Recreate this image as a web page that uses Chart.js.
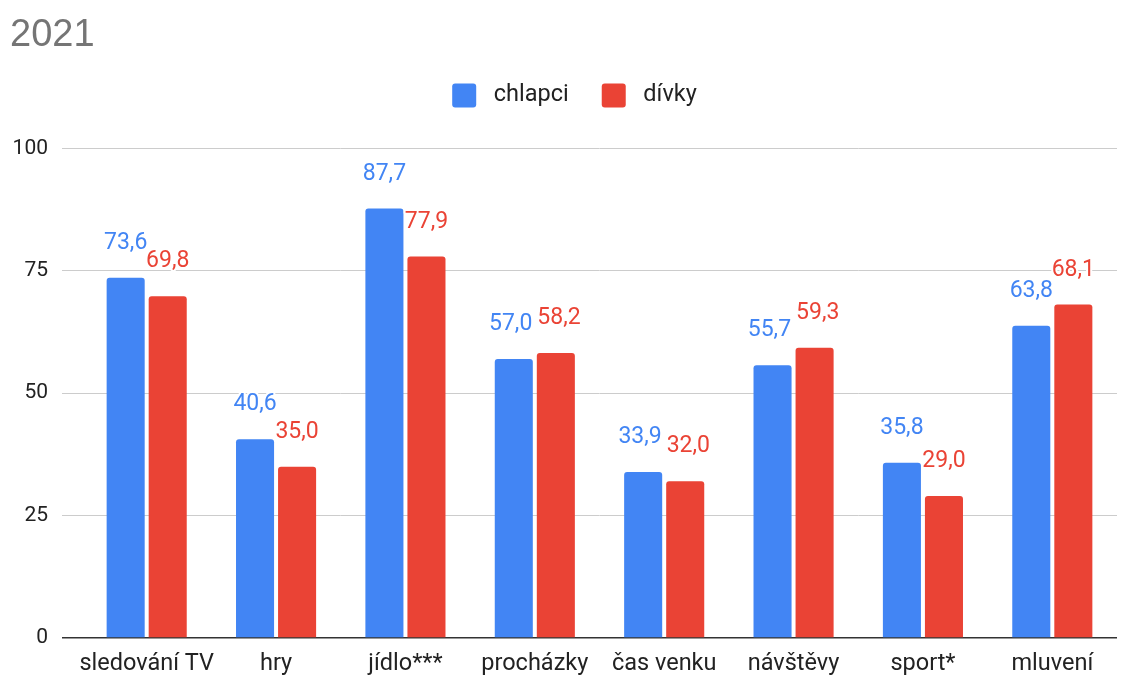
<!DOCTYPE html>
<html>
<head>
<meta charset="utf-8">
<script src="https://cdn.jsdelivr.net/npm/chart.js@4/dist/chart.umd.min.js"></script>
<style>
    html, body { margin: 0; padding: 0; background: #fff; }
    #wrap { width: 1131px; height: 677px; position: relative; }
</style>
</head>
<body>
<div id="wrap"><canvas id="chart"></canvas></div>
<script>
const categories = ['sledování TV', 'hry', 'jídlo***', 'procházky', 'čas venku', 'návštěvy', 'sport*', 'mluvení'];
const chlapci = [73.6, 40.6, 87.7, 57.0, 33.9, 55.7, 35.8, 63.8];
const divky = [69.8, 35.0, 77.9, 58.2, 32.0, 59.3, 29.0, 68.1];
const yTicks = [0, 25, 50, 75, 100];

const BLUE = '#4285F4';
const RED = '#EA4335';
const FONT = "Roboto, 'Noto Sans', sans-serif";

// value labels above each bar, comma decimal like the original;
// neighbouring labels at similar height get pushed apart so they don't touch
const valueLabels = {
    id: 'valueLabels',
    afterDatasetsDraw(chart) {
        const ctx = chart.ctx;
        ctx.save();
        ctx.font = '23px ' + FONT;
        ctx.textAlign = 'center';
        ctx.textBaseline = 'alphabetic';
        const metaA = chart.getDatasetMeta(0);
        const metaB = chart.getDatasetMeta(1);
        const fmt = v => v.toFixed(1).replace('.', ',');
        categories.forEach((c, j) => {
            const items = [
                { bar: metaA.data[j], txt: fmt(chlapci[j]), color: BLUE },
                { bar: metaB.data[j], txt: fmt(divky[j]), color: RED }
            ];
            items.forEach(it => { it.x = it.bar.x; it.y = it.bar.y - 29; it.w = ctx.measureText(it.txt).width; });
            const [a, b] = items;
            if (Math.abs(a.y - b.y) < 18) {
                const need = (a.w + b.w) / 2 + 5;
                const d = b.x - a.x;
                if (d < need) {
                    a.x -= (need - d) / 2;
                    b.x += (need - d) / 2;
                }
            }
            items.forEach(it => {
                ctx.lineWidth = 4;
                ctx.strokeStyle = '#fff';
                ctx.lineJoin = 'round';
                ctx.strokeText(it.txt, it.x, it.y);
                ctx.fillStyle = it.color;
                ctx.fillText(it.txt, it.x, it.y);
            });
        });
        ctx.restore();
    }
};

// extra room between the legend and the plot, legend nudged right a bit
const legendTweak = {
    id: 'legendTweak',
    beforeInit(chart) {
        const lg = chart.legend;
        const origFit = lg.fit;
        lg.fit = function () {
            origFit.bind(lg)();
            this.height += 31;
        };
        const origDraw = lg.draw;
        lg.draw = function (area) {
            chart.ctx.save();
            chart.ctx.translate(11, 0);
            origDraw.call(lg, area);
            chart.ctx.restore();
        };
    }
};

new Chart(document.getElementById('chart'), {
    type: 'bar',
    data: {
        labels: categories,
        datasets: [
            { label: ' chlapci', data: chlapci, backgroundColor: BLUE, borderRadius: 3 },
            { label: ' dívky', data: divky, backgroundColor: RED, borderRadius: 3 }
        ]
    },
    options: {
        responsive: true,
        maintainAspectRatio: false,
        animation: false,
        layout: { padding: { left: 10, right: 14, top: 0, bottom: 0 } },
        datasets: {
            bar: { categoryPercentage: 0.65, barPercentage: 0.905 }
        },
        scales: {
            x: {
                grid: { display: false, drawTicks: false },
                border: { display: false },
                ticks: { color: '#222', font: { family: FONT, size: 23.5, lineHeight: 1 }, padding: 14, maxRotation: 0, autoSkip: false },
                afterFit: s => { s.paddingLeft = 0; s.paddingRight = 0; s.height = 39; }
            },
            y: {
                min: 0,
                max: 100,
                afterBuildTicks: axis => { axis.ticks = yTicks.map(v => ({ value: v })); },
                afterFit: s => { s.width = 72; },
                grid: {
                    color: c => c.tick && c.tick.value === 0 ? '#333' : '#ccc',
                    lineWidth: c => c.tick && c.tick.value === 0 ? 1.5 : 1,
                    drawTicks: true,
                    tickLength: 20
                },
                border: { display: false },
                ticks: { color: '#222', font: { family: FONT, size: 21 }, padding: 14 }
            }
        },
        plugins: {
            title: {
                display: true,
                text: '2021',
                align: 'start',
                color: '#757575',
                font: { family: "'Liberation Sans', Arial, sans-serif", size: 38, weight: 'normal', lineHeight: 0.8 },
                padding: { top: 20, bottom: 0 }
            },
            legend: {
                position: 'top',
                labels: {
                    color: '#222',
                    font: { family: FONT, size: 23.5 },
                    boxWidth: 24,
                    boxHeight: 24,
                    useBorderRadius: true,
                    borderRadius: 3,
                    padding: 33
                }
            },
            tooltip: { enabled: false }
        }
    },
    plugins: [valueLabels, legendTweak]
});
</script>
</body>
</html>
